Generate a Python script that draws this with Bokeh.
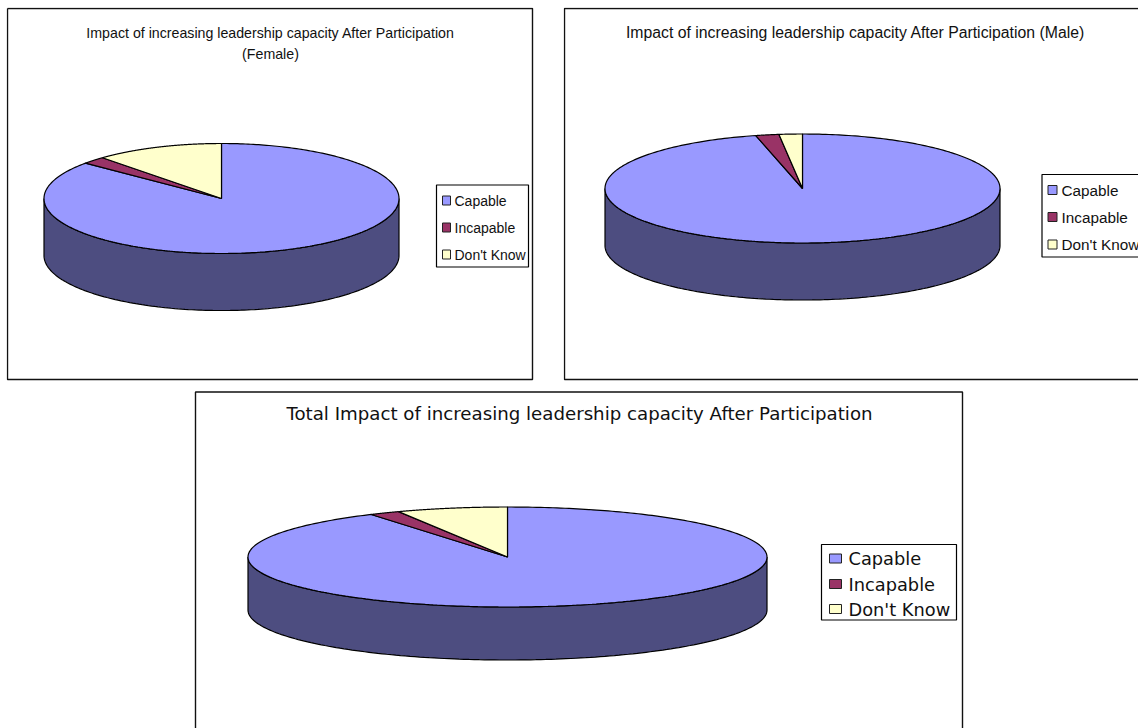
import numpy as np
from bokeh.core.properties import value
from bokeh.embed import file_html
from bokeh.layouts import column, row
from bokeh.models import Range1d
from bokeh.plotting import figure
from bokeh.resources import INLINE

# Share of respondents per answer, in percent
categories = ["Capable", "Incapable", "Don't Know"]
female_values = [86.1, 2.2, 11.7]
male_values = [96.2, 1.9, 1.9]
total_values = [91.2, 1.9, 6.9]

top_colors = ["#9999FF", "#993366", "#FFFFCC"]
wall_colors = ["#4D4D80", "#4D1A33", "#808066"]

female_title = ["Impact of increasing leadership capacity After Participation", "(Female)"]
male_title = ["Impact of increasing leadership capacity After Participation (Male)"]
total_title = ["Total Impact of increasing leadership capacity After Participation"]


def pie_panel(box, margin, outline, values, title, title_x, title_ys, title_font, title_size,
              pie, legend_box, swatch, label_x, label_ys, label_font, label_size):
    x0, y0, x1, y1 = box
    p = figure(width=x1 - x0, height=y1 - y0, x_range=Range1d(x0, x1), y_range=Range1d(y1, y0),
               output_backend="svg", toolbar_location=None, min_border=0,
               outline_line_color=None, background_fill_color="white", margin=margin)
    p.axis.visible = False
    p.grid.visible = False

    p.line(outline[0], outline[1], line_color="#111111", line_width=1.4)

    cx, cy, rx, ry, depth = pie
    stops = np.concatenate([[0.0], np.cumsum(values)]) / np.sum(values) * 2 * np.pi

    # Front wall: only the part of each slice facing the viewer is visible
    for i in range(len(values)):
        a = max(stops[i], np.pi / 2)
        b = min(stops[i + 1], 3 * np.pi / 2)
        if b <= a:
            continue
        t = np.linspace(a, b, 160)
        xs = cx + rx * np.sin(t)
        ys = cy - ry * np.cos(t)
        p.patch(np.r_[xs, xs[::-1]], np.r_[ys, ys[::-1] + depth],
                fill_color=wall_colors[i], line_color="black", line_width=1.2)

    # Top face, clockwise from twelve o'clock
    for i in range(len(values)):
        t = np.linspace(stops[i], stops[i + 1], 360)
        xs = np.r_[cx, cx + rx * np.sin(t)]
        ys = np.r_[cy, cy - ry * np.cos(t)]
        p.patch(xs, ys, fill_color=top_colors[i], line_color="black", line_width=1.2)

    p.text([title_x] * len(title), title_ys, text=title, text_align="center",
           text_baseline="middle", text_font=value(title_font),
           text_font_size=title_size, text_color="#111111")

    # Legend
    lx0, ly0, lx1, ly1 = legend_box
    p.quad(left=[lx0], right=[lx1], top=[ly0], bottom=[ly1], fill_color="white",
           line_color="black", line_width=1.2)
    sx0, sx1, sh = swatch
    p.quad(left=[sx0] * 3, right=[sx1] * 3,
           top=[y - sh / 2 for y in label_ys], bottom=[y + sh / 2 for y in label_ys],
           fill_color=top_colors, line_color="#222222", line_width=1)
    p.text([label_x] * 3, label_ys, text=categories, text_align="left",
           text_baseline="middle", text_font=value(label_font),
           text_font_size=label_size, text_color="#111111")
    return p


female = pie_panel(
    (6, 7, 534, 381), (7, 0, 0, 6),
    ([7, 532, 532, 7, 7], [8, 8, 379, 379, 8]),
    female_values, female_title, 270, [32, 53], "Liberation Sans", "14.2px",
    (221, 198, 177.5, 55, 57), (436, 184.5, 528, 266.5), (442, 450, 9),
    454, [200, 227, 254], "Liberation Sans", "14px",
)
male = pie_panel(
    (563, 7, 1138, 381), (7, 0, 0, 29),
    ([1138, 564, 564, 1138], [8, 8, 379, 379]),
    male_values, male_title, 855, [32], "Liberation Sans", "15.8px",
    (802, 188, 197.5, 54.5, 57), (1041.5, 174, 1170, 256.5), (1047.5, 1056.5, 9),
    1061, [189.5, 216.5, 244], "Liberation Sans", "15.3px",
)
total = pie_panel(
    (193, 390, 964, 728), (9, 0, 0, 193),
    ([195, 195, 962, 962], [728, 391.5, 391.5, 728]),
    total_values, total_title, 579, [413], "DejaVu Sans", "18.2px",
    (507, 556.5, 259.5, 50, 53), (821, 544, 956, 619.5), (829, 841, 9),
    848, [558, 583.5, 608.5], "DejaVu Sans", "17.8px",
)

page = column(row(female, male, spacing=0), total, spacing=0)
open("out.html", "w").write(file_html(page, INLINE))
